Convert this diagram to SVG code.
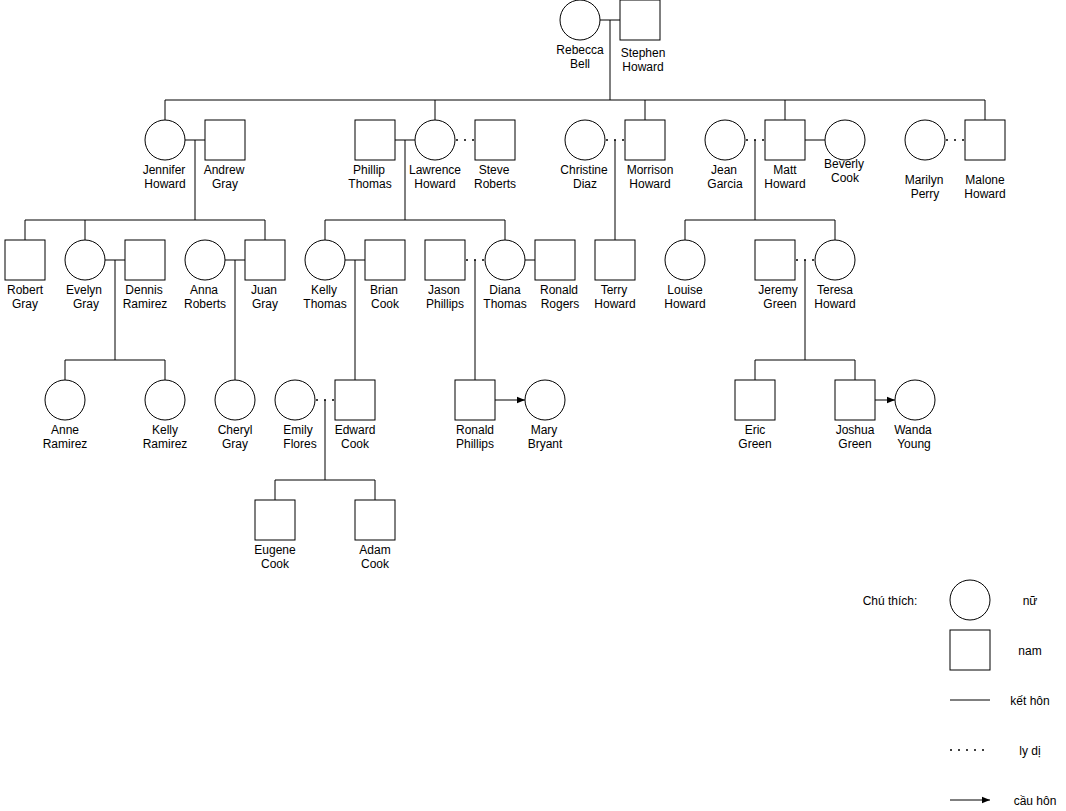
<svg xmlns="http://www.w3.org/2000/svg" width="1066" height="811" viewBox="0 0 1066 811">
<style>
.s{fill:#fff;stroke:#000;stroke-width:1}
.l{fill:none;stroke:#000;stroke-width:1}
.d{fill:none;stroke:#000;stroke-width:1.5;stroke-dasharray:2 6}
.a{fill:none;stroke:#000;stroke-width:1;marker-end:url(#ah)}
text{font-family:"Liberation Sans",Arial,Helvetica,sans-serif;font-size:12px;fill:#000;text-anchor:middle}
</style>
<defs>
<marker id="ah" viewBox="0 0 10 10" refX="10" refY="5" markerWidth="8" markerHeight="8" markerUnits="userSpaceOnUse" orient="auto">
<path d="M0,1 L10,5 L0,9 z" fill="#000"/>
</marker>
</defs>
<rect width="1066" height="811" fill="#fff"/>
<g id="connectors">
<path class="l" d="M600,20 H620 M610,20 V100 M165,100 H985 M165,100 V120 M435,100 V120 M645,100 V120 M785,100 V120 M985,100 V120"/>
<path class="l" d="M185,140 H205 M195,140 V220 M25,220 H265 M25,220 V240 M85,220 V240 M265,220 V240"/>
<path class="l" d="M395,140 H415 M405,140 V220 M325,220 H505 M325,220 V240 M505,220 V240"/>
<path class="d" d="M456,140 H475"/>
<path class="d" d="M606,140 H625"/>
<path class="l" d="M615,140 V240"/>
<path class="d" d="M746,140 H765"/>
<path class="l" d="M755,140 V220 M685,220 H835 M685,220 V240 M835,220 V240"/>
<path class="l" d="M805,140 H825"/>
<path class="d" d="M946,140 H965"/>
<path class="l" d="M105,260 H125 M115,260 V360 M65,360 H165 M65,360 V380 M165,360 V380"/>
<path class="l" d="M225,260 H245 M235,260 V380"/>
<path class="l" d="M345,260 H365 M355,260 V380"/>
<path class="d" d="M466,260 H485"/>
<path class="l" d="M475,260 V380"/>
<path class="l" d="M525,260 H535"/>
<path class="d" d="M796,260 H815"/>
<path class="l" d="M805,260 V360 M755,360 H855 M755,360 V380 M855,360 V380"/>
<path class="d" d="M316,400 H335"/>
<path class="l" d="M325,400 V480 M275,480 H375 M275,480 V500 M375,480 V500"/>
<path class="a" d="M495,400 H525"/>
<path class="a" d="M875,400 H895"/>
</g>
<g id="rebecca-bell"><circle class="s" cx="580" cy="20" r="20"/><text x="580" y="54">Rebecca<tspan x="580" dy="14">Bell</tspan></text></g>
<g id="stephen-howard"><rect class="s" x="620" y="0" width="40" height="40"/><text x="643" y="57">Stephen<tspan x="643" dy="14">Howard</tspan></text></g>
<g id="jennifer-howard"><circle class="s" cx="165" cy="140" r="20"/><text x="164" y="174">Jennifer<tspan x="165" dy="14">Howard</tspan></text></g>
<g id="andrew-gray"><rect class="s" x="205" y="120" width="40" height="40"/><text x="224" y="174">Andrew<tspan x="225" dy="14">Gray</tspan></text></g>
<g id="phillip-thomas"><rect class="s" x="355" y="120" width="40" height="40"/><text x="369" y="174">Phillip<tspan x="370" dy="14">Thomas</tspan></text></g>
<g id="lawrence-howard"><circle class="s" cx="435" cy="140" r="20"/><text x="435" y="174">Lawrence<tspan x="435" dy="14">Howard</tspan></text></g>
<g id="steve-roberts"><rect class="s" x="475" y="120" width="40" height="40"/><text x="494" y="174">Steve<tspan x="495" dy="14">Roberts</tspan></text></g>
<g id="christine-diaz"><circle class="s" cx="585" cy="140" r="20"/><text x="584" y="174">Christine<tspan x="585" dy="14">Diaz</tspan></text></g>
<g id="morrison-howard"><rect class="s" x="625" y="120" width="40" height="40"/><text x="650" y="174">Morrison<tspan x="650" dy="14">Howard</tspan></text></g>
<g id="jean-garcia"><circle class="s" cx="725" cy="140" r="20"/><text x="724" y="174">Jean<tspan x="725" dy="14">Garcia</tspan></text></g>
<g id="matt-howard"><rect class="s" x="765" y="120" width="40" height="40"/><text x="785" y="174">Matt<tspan x="785" dy="14">Howard</tspan></text></g>
<g id="beverly-cook"><circle class="s" cx="845" cy="140" r="20"/><text x="844" y="168">Beverly<tspan x="845" dy="14">Cook</tspan></text></g>
<g id="marilyn-perry"><circle class="s" cx="925" cy="140" r="20"/><text x="924" y="184">Marilyn<tspan x="925" dy="14">Perry</tspan></text></g>
<g id="malone-howard"><rect class="s" x="965" y="120" width="40" height="40"/><text x="985" y="184">Malone<tspan x="985" dy="14">Howard</tspan></text></g>
<g id="robert-gray"><rect class="s" x="5" y="240" width="40" height="40"/><text x="25" y="294">Robert<tspan x="25" dy="14">Gray</tspan></text></g>
<g id="evelyn-gray"><circle class="s" cx="85" cy="260" r="20"/><text x="84" y="294">Evelyn<tspan x="86" dy="14">Gray</tspan></text></g>
<g id="dennis-ramirez"><rect class="s" x="125" y="240" width="40" height="40"/><text x="144" y="294">Dennis<tspan x="145" dy="14">Ramirez</tspan></text></g>
<g id="anna-roberts"><circle class="s" cx="205" cy="260" r="20"/><text x="204" y="294">Anna<tspan x="205" dy="14">Roberts</tspan></text></g>
<g id="juan-gray"><rect class="s" x="245" y="240" width="40" height="40"/><text x="264" y="294">Juan<tspan x="265" dy="14">Gray</tspan></text></g>
<g id="kelly-thomas"><circle class="s" cx="325" cy="260" r="20"/><text x="324" y="294">Kelly<tspan x="325" dy="14">Thomas</tspan></text></g>
<g id="brian-cook"><rect class="s" x="365" y="240" width="40" height="40"/><text x="384" y="294">Brian<tspan x="385" dy="14">Cook</tspan></text></g>
<g id="jason-phillips"><rect class="s" x="425" y="240" width="40" height="40"/><text x="444" y="294">Jason<tspan x="445" dy="14">Phillips</tspan></text></g>
<g id="diana-thomas"><circle class="s" cx="505" cy="260" r="20"/><text x="505" y="294">Diana<tspan x="505" dy="14">Thomas</tspan></text></g>
<g id="ronald-rogers"><rect class="s" x="535" y="240" width="40" height="40"/><text x="559" y="294">Ronald<tspan x="560" dy="14">Rogers</tspan></text></g>
<g id="terry-howard"><rect class="s" x="595" y="240" width="40" height="40"/><text x="614" y="294">Terry<tspan x="615" dy="14">Howard</tspan></text></g>
<g id="louise-howard"><circle class="s" cx="685" cy="260" r="20"/><text x="685" y="294">Louise<tspan x="685" dy="14">Howard</tspan></text></g>
<g id="jeremy-green"><rect class="s" x="755" y="240" width="40" height="40"/><text x="778" y="294">Jeremy<tspan x="780" dy="14">Green</tspan></text></g>
<g id="teresa-howard"><circle class="s" cx="835" cy="260" r="20"/><text x="835" y="294">Teresa<tspan x="835" dy="14">Howard</tspan></text></g>
<g id="anne-ramirez"><circle class="s" cx="65" cy="400" r="20"/><text x="65" y="434">Anne<tspan x="65" dy="14">Ramirez</tspan></text></g>
<g id="kelly-ramirez"><circle class="s" cx="165" cy="400" r="20"/><text x="165" y="434">Kelly<tspan x="165" dy="14">Ramirez</tspan></text></g>
<g id="cheryl-gray"><circle class="s" cx="235" cy="400" r="20"/><text x="235" y="434">Cheryl<tspan x="235" dy="14">Gray</tspan></text></g>
<g id="emily-flores"><circle class="s" cx="295" cy="400" r="20"/><text x="298" y="434">Emily<tspan x="300" dy="14">Flores</tspan></text></g>
<g id="edward-cook"><rect class="s" x="335" y="380" width="40" height="40"/><text x="355" y="434">Edward<tspan x="355" dy="14">Cook</tspan></text></g>
<g id="ronald-phillips"><rect class="s" x="455" y="380" width="40" height="40"/><text x="475" y="434">Ronald<tspan x="475" dy="14">Phillips</tspan></text></g>
<g id="mary-bryant"><circle class="s" cx="545" cy="400" r="20"/><text x="544" y="434">Mary<tspan x="545" dy="14">Bryant</tspan></text></g>
<g id="eric-green"><rect class="s" x="735" y="380" width="40" height="40"/><text x="755" y="434">Eric<tspan x="755" dy="14">Green</tspan></text></g>
<g id="joshua-green"><rect class="s" x="835" y="380" width="40" height="40"/><text x="855" y="434">Joshua<tspan x="855" dy="14">Green</tspan></text></g>
<g id="wanda-young"><circle class="s" cx="915" cy="400" r="20"/><text x="913" y="434">Wanda<tspan x="914" dy="14">Young</tspan></text></g>
<g id="eugene-cook"><rect class="s" x="255" y="500" width="40" height="40"/><text x="275" y="554">Eugene<tspan x="275" dy="14">Cook</tspan></text></g>
<g id="adam-cook"><rect class="s" x="355" y="500" width="40" height="40"/><text x="375" y="554">Adam<tspan x="375" dy="14">Cook</tspan></text></g>
<g id="legend">
<text x="890" y="605">Chú thích:</text>
<circle class="s" cx="970" cy="600" r="20"/><text x="1030" y="605">nữ</text>
<rect class="s" x="950" y="630" width="40" height="40"/><text x="1030" y="655">nam</text>
<path class="l" d="M950,700 H990"/><text x="1030" y="705">kết hôn</text>
<path class="d" d="M950,750 H990"/><text x="1030" y="755">ly dị</text>
<path class="a" d="M950,800 H990"/><text x="1035" y="805">cầu hôn</text>
</g>
</svg>
